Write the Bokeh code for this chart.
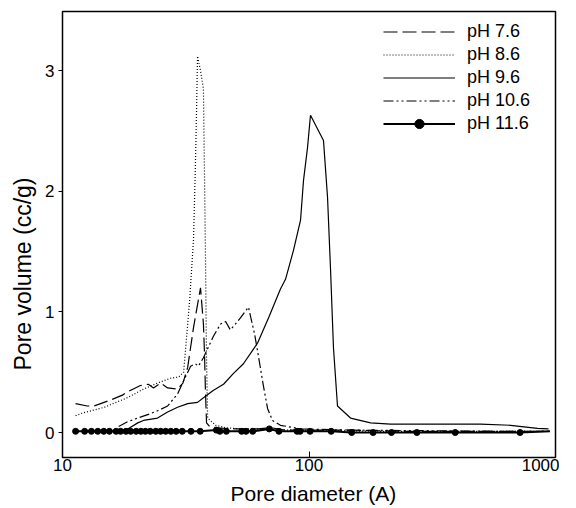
from bokeh.plotting import figure
from bokeh.models import Range1d, FixedTicker, NumeralTickFormatter, Legend, LegendItem, Title
from bokeh.embed import file_html
from bokeh.resources import INLINE

# pH 7.6 (dashed)
x76 = [11.3, 12.6, 13.4, 15.7, 17.5, 18.5, 20.7, 22.3, 23.4, 25.0, 26.7, 29.3, 30.8, 32.2, 34.0, 36.3,
       37.3, 37.7, 38.0, 38.4, 39.5, 42, 48, 55, 62, 70, 80, 100, 150, 250, 500, 900]
y76 = [0.24, 0.22, 0.22, 0.27, 0.31, 0.34, 0.39, 0.40, 0.37, 0.41, 0.37, 0.36, 0.41, 0.54, 0.87, 1.20,
       0.90, 0.64, 0.35, 0.08, 0.05, 0.04, 0.03, 0.03, 0.03, 0.04, 0.02, 0.02, 0.02, 0.01, 0.01, 0.01]
# pH 8.6 (dotted)
x86 = [11.3, 12.0, 13.1, 14.8, 16.5, 18.4, 21.3, 24.3, 27.4, 29.6, 31.0, 31.9, 32.8, 34.0, 34.6, 35.0,
       35.3, 36.3, 37.3, 38.0, 38.4, 38.8, 41.8, 46, 52.7, 60, 70, 84, 120, 200, 400, 900]
y86 = [0.14, 0.16, 0.18, 0.21, 0.25, 0.29, 0.36, 0.41, 0.45, 0.46, 0.5, 0.8, 1.1, 1.6, 2.2, 2.7,
       3.12, 3.0, 2.85, 1.5, 0.6, 0.12, 0.06, 0.04, 0.03, 0.03, 0.02, 0.02, 0.015, 0.01, 0.01, 0.01]
# pH 9.6 (solid)
x96 = [17.9, 18.4, 20.2, 21.3, 24.3, 26.7, 29.3, 32.2, 35.3, 38.0, 41.0, 45.0, 49.4, 54.2, 61.8, 68.5,
       76.6, 80.3, 86.5, 92.4, 95.0, 98.6, 101.4, 114.5, 118.9, 122.3, 125.7, 130.5, 147.4, 177.7,
       214, 496, 657, 845, 937]
y96 = [0.02, 0.03, 0.08, 0.10, 0.12, 0.17, 0.21, 0.24, 0.25, 0.30, 0.35, 0.40, 0.49, 0.57, 0.74, 0.95,
       1.19, 1.27, 1.51, 1.76, 2.09, 2.36, 2.63, 2.42, 1.95, 1.35, 0.70, 0.22, 0.12, 0.08,
       0.07, 0.07, 0.06, 0.035, 0.03]
# pH 10.6 (dash-dot-dot)
x106 = [16.9, 18.4, 20.2, 22.3, 24.3, 26.7, 29.3, 31.0, 33.1, 34.6, 35.6, 37.3, 41.0, 43.8, 45.9,
        48.0, 52.7, 56.8, 60.1, 61.8, 65.4, 67.9, 71.1, 76.6, 92.4, 147, 300, 600, 950]
y106 = [0.05, 0.09, 0.12, 0.15, 0.18, 0.22, 0.32, 0.43, 0.55, 0.57, 0.55, 0.62, 0.80, 0.90, 0.92,
        0.85, 0.95, 1.04, 0.82, 0.68, 0.38, 0.20, 0.10, 0.06, 0.03, 0.02, 0.015, 0.01, 0.01]
# pH 11.6 (thick line with dots)
x116 = [11.3, 12.3, 13.1, 13.9, 14.7, 15.5, 16.5, 17.2, 18.1, 18.9, 19.9, 20.8, 21.7, 22.7, 23.9,
        25.0, 26.2, 27.5, 28.9, 30.6, 33.2, 36.2, 42.1, 43.5, 46.2, 53.3, 55.5, 59.1, 69.0, 75.5,
        89.5, 92.0, 101, 123, 149, 182, 216, 274, 392, 718, 950]
y116 = [0.01, 0.01, 0.01, 0.01, 0.01, 0.01, 0.01, 0.01, 0.01, 0.01, 0.01, 0.01, 0.01, 0.01, 0.01,
        0.01, 0.01, 0.01, 0.01, 0.01, 0.01, 0.01, 0.02, 0.01, 0.01, 0.01, 0.01, 0.01, 0.03, 0.01,
        0.01, 0.01, 0.01, 0.01, 0.0, 0.0, 0.0, 0.0, 0.0, 0.0, 0.01]

labels = ["pH 7.6", "pH 8.6", "pH 9.6", "pH 10.6", "pH 11.6"]
x_ticks = [10, 100, 1000]
y_ticks = [0, 1, 2, 3]
x_title = "Pore diameter (A)"
y_title = "Pore volume (cc/g)"

FONT = "Liberation Sans"

p = figure(frame_width=493, frame_height=446, x_axis_type="log",
           x_range=Range1d(10, 1000), y_range=Range1d(-0.207, 3.49),
           output_backend="svg", toolbar_location=None,
           min_border_left=62, min_border_right=4, min_border_top=11, min_border_bottom=10)
p.background_fill_color = "white"
p.border_fill_color = "white"
p.outline_line_color = "black"
p.outline_line_width = 1.5
p.grid.visible = False

r76 = p.line(x76, y76, line_color="black", line_width=1.2, line_dash="14 5")
r86 = p.line(x86, y86, line_color="black", line_width=1.2, line_dash="1 2")
r96 = p.line(x96, y96, line_color="black", line_width=1.2)
r106 = p.line(x106, y106, line_color="black", line_width=1.2, line_dash="10 3 2 3 2 3")
r116 = p.line(x116, y116, line_color="black", line_width=2)
s116 = p.scatter(x116[:-1], y116[:-1], size=6, marker="circle", fill_color="black", line_color="black")

legend = Legend(items=[
    LegendItem(label=labels[0], renderers=[r76]),
    LegendItem(label=labels[1], renderers=[r86]),
    LegendItem(label=labels[2], renderers=[r96]),
    LegendItem(label=labels[3], renderers=[r106]),
    LegendItem(label=labels[4], renderers=[r116, s116]),
], location="top_right")
legend.border_line_color = None
legend.background_fill_alpha = 0
legend.label_text_font = FONT
legend.label_text_font_size = "18px"
legend.label_text_color = "black"
legend.glyph_width = 72
legend.glyph_height = 23
legend.label_height = 23
legend.label_width = 79
legend.label_standoff = 12
legend.spacing = 0
legend.padding = 0
legend.margin = 9
p.add_layout(legend, "center")

for ax in (p.xaxis, p.yaxis):
    ax.axis_line_color = "black"
    ax.major_tick_line_color = "black"
    ax.minor_tick_line_color = None
    ax.major_label_text_font = FONT
    ax.major_label_text_font_size = "17px"
    ax.major_label_text_color = "black"

p.xaxis.ticker = FixedTicker(ticks=x_ticks)
p.xaxis.formatter = NumeralTickFormatter(format="0")
p.xaxis.major_tick_in = 6
p.xaxis.major_tick_out = 0
p.xaxis.major_label_standoff = 1

p.yaxis.ticker = FixedTicker(ticks=y_ticks)
p.yaxis.major_tick_in = 0
p.yaxis.major_tick_out = 4
p.yaxis.major_label_standoff = 4

# axis titles as side titles, so they can sit where the original has them
xt = Title(text=x_title, align="left", offset=168, standoff=12,
           text_font=FONT, text_font_size="21px", text_font_style="normal", text_color="black")
p.add_layout(xt, "below")
yt = Title(text=y_title, align="left", offset=87, standoff=14,
           text_font=FONT, text_font_size="23px", text_font_style="normal", text_color="black")
p.add_layout(yt, "left")

open("out.html", "w").write(file_html(p, INLINE))
